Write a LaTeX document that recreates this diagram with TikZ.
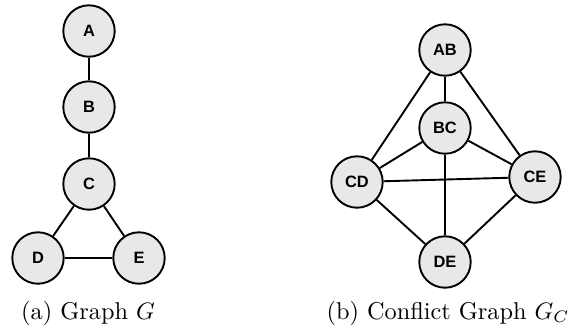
\documentclass[tikz,border=0pt]{standalone}
\usepackage{fontspec}
\newfontfamily\nodefont{Liberation Sans}
\begin{document}
\begin{tikzpicture}[x=0.42pt,y=-0.42pt,
  vtx/.style={circle,draw=black,line width=0.8pt,fill={rgb,255:red,232;green,232;blue,232},
    minimum size=21.6pt,inner sep=0pt,font=\nodefont\bfseries\fontsize{6.9}{8}\selectfont},
  edge/.style={line width=0.8pt},
  captext/.style={anchor=base,font=\fontsize{10.2}{12}\selectfont}]
\useasboundingbox (0,0) rectangle (582,333);
% Graph G
\node[vtx] (A) at (89,31) {A};
\node[vtx] (B) at (89,107) {B};
\node[vtx] (C) at (89,184) {C};
\node[vtx] (D) at (38,258) {D};
\node[vtx] (E) at (139,258) {E};
\draw[edge] (A) -- (B);
\draw[edge] (B) -- (C);
\draw[edge] (C) -- (D);
\draw[edge] (C) -- (E);
\draw[edge] (D) -- (E);
% Conflict graph
\node[vtx] (AB) at (445,50) {AB};
\node[vtx] (BC) at (445,128) {BC};
\node[vtx] (CD) at (357,182) {CD};
\node[vtx] (CE) at (535,177) {CE};
\node[vtx] (DE) at (445,262) {DE};
\draw[edge] (AB) -- (BC);
\draw[edge] (AB) -- (CD);
\draw[edge] (AB) -- (CE);
\draw[edge] (BC) -- (CD);
\draw[edge] (BC) -- (CE);
\draw[edge] (BC) -- (DE);
\draw[edge] (CD) -- (CE);
\draw[edge] (CD) -- (DE);
\draw[edge] (CE) -- (DE);
% captions
\node[captext] (capa) at (88,319) {(a) Graph $G$};
\node[captext] (capb) at (448,319) {(b) Conflict Graph $G_C$};
\end{tikzpicture}
\end{document}
